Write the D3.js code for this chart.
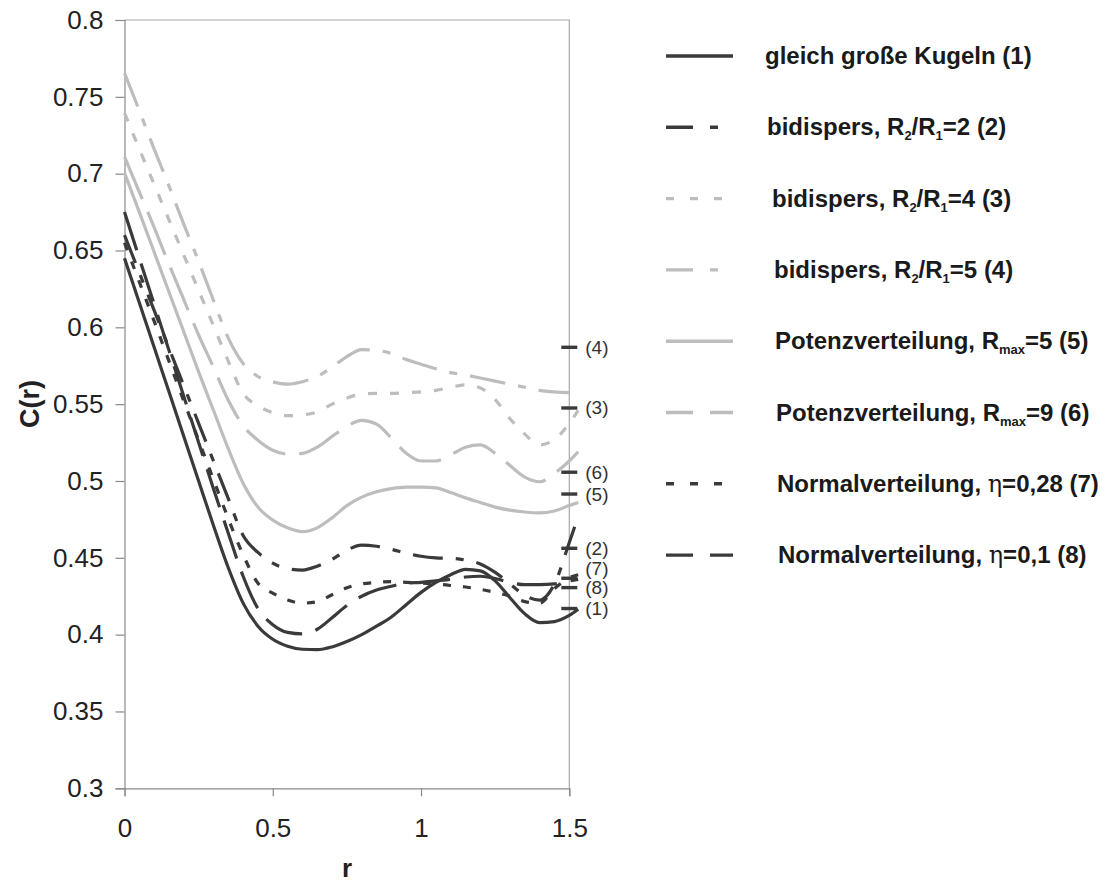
<!DOCTYPE html>
<html>
<head>
<meta charset="utf-8">
<script src="https://cdn.jsdelivr.net/npm/d3@7"></script>
<style>
  body { margin: 0; background: #fff; }
  svg { display: block; font-family: "Liberation Sans", Arial, Helvetica, sans-serif; }
</style>
</head>
<body>
<svg id="chart" width="1108" height="884"></svg>
<script>
// r grid shared by all curves (the last point runs slightly past the axis end)
const rValues = [0, 0.05, 0.1, 0.15, 0.2, 0.25, 0.3, 0.35, 0.4, 0.45, 0.5, 0.55, 0.6, 0.65, 0.7, 0.75,
  0.8, 0.85, 0.9, 0.95, 1.0, 1.05, 1.1, 1.15, 1.2, 1.25, 1.3, 1.35, 1.4, 1.45, 1.5, 1.53];

// C(r) for each packing
const gleichGross = [0.645, 0.616, 0.587, 0.558, 0.529, 0.5, 0.471, 0.4435, 0.4205, 0.4055, 0.397, 0.3925, 0.3905, 0.3902, 0.392, 0.3955,
  0.4, 0.4055, 0.4115, 0.4195, 0.4275, 0.434, 0.439, 0.4425, 0.4415, 0.435, 0.424, 0.4135, 0.4078, 0.4085, 0.4125, 0.4165];
const bidispers2 = [0.66, 0.6355, 0.611, 0.5865, 0.562, 0.5375, 0.513, 0.4885, 0.4645, 0.4535, 0.4465, 0.443, 0.442, 0.4445, 0.449, 0.455,
  0.4583, 0.4575, 0.4555, 0.453, 0.451, 0.45, 0.4497, 0.4485, 0.446, 0.4405, 0.433, 0.4255, 0.4225, 0.433, 0.46, 0.477];
const bidispers4 = [0.7395, 0.716, 0.693, 0.67, 0.647, 0.624, 0.601, 0.578, 0.557, 0.549, 0.5445, 0.5425, 0.543, 0.545, 0.55, 0.554,
  0.5565, 0.557, 0.557, 0.5575, 0.558, 0.559, 0.561, 0.5625, 0.5605, 0.553, 0.5405, 0.5305, 0.5235, 0.527, 0.5375, 0.546];
const bidispers5 = [0.7655, 0.741, 0.716, 0.692, 0.667, 0.643, 0.6175, 0.593, 0.5765, 0.568, 0.5645, 0.563, 0.5646, 0.568, 0.574, 0.581,
  0.5855, 0.585, 0.583, 0.579, 0.576, 0.573, 0.5705, 0.569, 0.567, 0.565, 0.563, 0.561, 0.559, 0.558, 0.5575, null];
const potenz5 = [0.7005, 0.675, 0.649, 0.623, 0.597, 0.571, 0.546, 0.521, 0.4985, 0.483, 0.4745, 0.4695, 0.467, 0.4695, 0.476, 0.484,
  0.4895, 0.493, 0.495, 0.496, 0.496, 0.4955, 0.4925, 0.489, 0.486, 0.483, 0.481, 0.4798, 0.4792, 0.4805, 0.484, 0.486];
const potenz9 = [0.711, 0.688, 0.665, 0.641, 0.618, 0.595, 0.574, 0.5525, 0.536, 0.5265, 0.52, 0.5175, 0.518, 0.522, 0.529, 0.5355,
  0.5395, 0.537, 0.528, 0.518, 0.513, 0.513, 0.517, 0.522, 0.5235, 0.518, 0.51, 0.5025, 0.4995, 0.505, 0.513, 0.519];
const normal028 = [0.655, 0.6295, 0.604, 0.578, 0.552, 0.5265, 0.501, 0.4755, 0.452, 0.4335, 0.427, 0.4225, 0.4205, 0.4215, 0.426, 0.4305,
  0.433, 0.434, 0.4345, 0.434, 0.4335, 0.433, 0.432, 0.431, 0.4295, 0.4275, 0.425, 0.4215, 0.4205, 0.43, 0.437, 0.439];
const normal01 = [0.675, 0.645, 0.615, 0.585, 0.555, 0.525, 0.495, 0.466, 0.438, 0.417, 0.4065, 0.4015, 0.4005, 0.4035, 0.411, 0.419,
  0.425, 0.429, 0.4315, 0.4335, 0.434, 0.435, 0.436, 0.4375, 0.438, 0.4365, 0.434, 0.4325, 0.4325, 0.433, 0.435, 0.436];

// limiting values marked on the right axis, one per curve (1)..(8)
const limitValues = [0.417, 0.4562, 0.5475, 0.587, 0.4915, 0.5057, 0.4367, 0.4306];
const limitLabels = ["(1)", "(2)", "(3)", "(4)", "(5)", "(6)", "(7)", "(8)"];

// legend texts; "sub" parts are subscripts, "sym" is the Greek symbol
const legendTexts = [
  [["gleich große Kugeln (1)"]],
  [["bidispers, R"], ["2", "sub"], ["/R"], ["1", "sub"], ["=2 (2)"]],
  [["bidispers, R"], ["2", "sub"], ["/R"], ["1", "sub"], ["=4 (3)"]],
  [["bidispers, R"], ["2", "sub"], ["/R"], ["1", "sub"], ["=5 (4)"]],
  [["Potenzverteilung, R"], ["max", "sub"], ["=5 (5)"]],
  [["Potenzverteilung, R"], ["max", "sub"], ["=9 (6)"]],
  [["Normalverteilung, "], ["η", "sym"], ["=0,28 (7)"]],
  [["Normalverteilung, "], ["η", "sym"], ["=0,1 (8)"]]
];

const xTicks = [0, 0.5, 1, 1.5];
const yTicks = [0.3, 0.35, 0.4, 0.45, 0.5, 0.55, 0.6, 0.65, 0.7, 0.75, 0.8];

// line styles
const DARK = "#3a3a3a", LIGHT = "#bdbdbd";
const styles = [
  { color: DARK,  dash: null,          legendDash: null },
  { color: DARK,  dash: "30,13,8,13",  legendDash: "27,17,8,17" },
  { color: LIGHT, dash: "9,13",        legendDash: "8,16" },
  { color: LIGHT, dash: "36,13,8,13",  legendDash: "27,17,8,17" },
  { color: LIGHT, dash: null,          legendDash: null },
  { color: LIGHT, dash: "46,14",       legendDash: "27,17" },
  { color: DARK,  dash: "8,12",        legendDash: "8,16" },
  { color: DARK,  dash: "40,14",       legendDash: "27,17" }
];

const allSeries = [gleichGross, bidispers2, bidispers4, bidispers5, potenz5, potenz9, normal028, normal01];

const svg = d3.select("#chart");
const plotLeft = 124.5, plotRight = 569.3, plotTop = 20, plotBottom = 788.3;

const x = d3.scaleLinear().domain([0, 1.5]).range([plotLeft, plotRight]);
const y = d3.scaleLinear().domain([0.3, 0.8]).range([plotBottom, plotTop]);

const AXIS = "#8a8a8a";

// plot frame (top and right edges)
svg.append("path")
  .attr("d", `M${plotLeft},${plotTop}H${plotRight}V${plotBottom}`)
  .attr("fill", "none").attr("stroke", "#a8a8a8").attr("stroke-width", 1.2);

// y axis
const yAxis = svg.append("g")
  .attr("transform", `translate(${plotLeft},0)`)
  .call(d3.axisLeft(y).tickValues(yTicks).tickFormat(d3.format("")).tickSize(9).tickPadding(12));
// x axis
const xAxis = svg.append("g")
  .attr("transform", `translate(0,${plotBottom})`)
  .call(d3.axisBottom(x).tickValues(xTicks).tickFormat(d3.format("")).tickSize(8).tickPadding(22));

[yAxis, xAxis].forEach(g => {
  g.select(".domain").attr("stroke", AXIS).attr("stroke-width", 1.2);
  g.selectAll(".tick line").attr("stroke", AXIS).attr("stroke-width", 1.2);
  g.selectAll(".tick text").attr("fill", "#222").attr("font-size", 26)
    .attr("font-family", "'Liberation Sans', Arial, sans-serif");
});

// axis titles
svg.append("text")
  .attr("transform", "translate(30,404) rotate(-90)")
  .attr("text-anchor", "middle").attr("dominant-baseline", "central")
  .attr("font-size", 27).attr("font-weight", "bold").attr("fill", "#222")
  .text("C(r)");
svg.append("text")
  .attr("x", 347).attr("y", 877)
  .attr("text-anchor", "middle")
  .attr("font-size", 26).attr("font-weight", "bold").attr("fill", "#222")
  .text("r");

// curves
const line = d3.line()
  .defined(d => d[1] != null)
  .x(d => x(d[0]))
  .y(d => y(d[1]))
  .curve(d3.curveMonotoneX);

// draw light curves first so the dark ones lie on top
const order = [4, 5, 2, 3, 0, 6, 7, 1];
order.forEach(i => {
  const pts = rValues.map((r, k) => [r, allSeries[i][k]]);
  svg.append("path")
    .attr("d", line(pts))
    .attr("fill", "none")
    .attr("stroke", styles[i].color)
    .attr("stroke-width", 3.2)
    .attr("stroke-linecap", "butt")
    .attr("stroke-dasharray", styles[i].dash);
});

// limit markers on the right axis
limitValues.forEach(v => {
  svg.append("line")
    .attr("x1", plotRight - 8).attr("x2", plotRight + 8)
    .attr("y1", y(v)).attr("y2", y(v))
    .attr("stroke", DARK).attr("stroke-width", 3.4);
});

// marker labels, pushed apart from the bottom up so they do not overlap
const labelPos = limitValues.map((v, i) => ({ i, py: y(v) })).sort((a, b) => b.py - a.py);
for (let k = 1; k < labelPos.length; k++) {
  const gap = 19;
  if (labelPos[k - 1].py - labelPos[k].py < gap) labelPos[k].py = labelPos[k - 1].py - gap;
}
labelPos.forEach(p => {
  svg.append("text")
    .attr("x", plotRight + 16).attr("y", p.py)
    .attr("dominant-baseline", "central")
    .attr("font-size", 19).attr("fill", "#333")
    .text(limitLabels[p.i]);
});

// legend
const legendTop = 56, legendStep = 71.3;
const legendIndent = [0, 2, 7, 9, 10, 11, 12, 13];
legendTexts.forEach((parts, i) => {
  const ly = legendTop + i * legendStep;
  svg.append("line")
    .attr("x1", 666).attr("x2", 733).attr("y1", ly).attr("y2", ly)
    .attr("stroke", styles[i].color).attr("stroke-width", 3.4)
    .attr("stroke-dasharray", styles[i].legendDash);
  const t = svg.append("text")
    .attr("x", 765 + legendIndent[i]).attr("y", ly + 8)
    .attr("font-size", 24).attr("font-weight", "bold").attr("fill", "#1a1a1a");
  parts.forEach(([txt, kind], k) => {
    const s = t.append("tspan").text(txt);
    if (kind === "sub") {
      s.attr("font-size", 13).attr("dy", 5);
    } else {
      if (k > 0 && parts[k - 1][1] === "sub") s.attr("dy", -5);
      if (kind === "sym") {
        s.attr("font-weight", "normal").attr("font-family", "'DejaVu Serif', serif");
      }
    }
  });
});
</script>
</body>
</html>
